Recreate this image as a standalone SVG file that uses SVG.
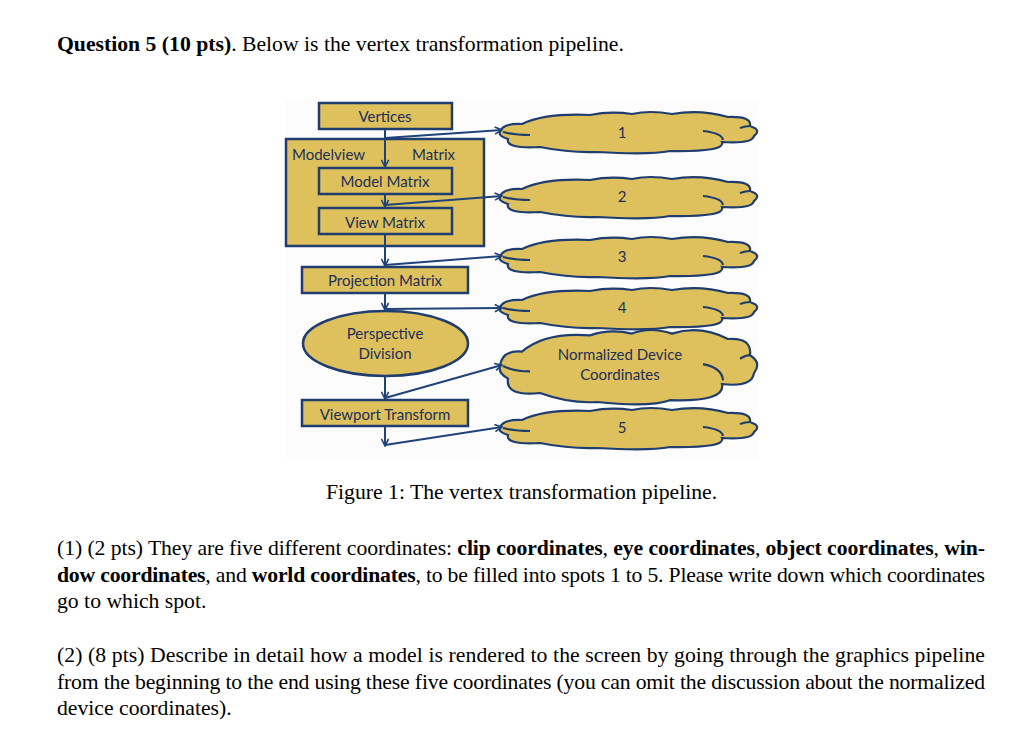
<svg xmlns="http://www.w3.org/2000/svg" width="1024" height="755" viewBox="0 0 1024 755">
<style>
.box{fill:#dec05d;stroke:#1f3d6f;stroke-width:2.5}
.cl{fill:#dec05d;stroke:#1f3d6f;stroke-width:2.2;vector-effect:non-scaling-stroke}
.ci{fill:none;stroke:#1f3d6f;stroke-width:2.2;vector-effect:non-scaling-stroke}
.lbl{font-family:Lato,"Open Sans",sans-serif;font-size:15px;fill:#1d2f57}
.c{text-anchor:middle}
.ln{fill:none;stroke:#1f4377;stroke-width:2}
.t{font-family:"Liberation Serif","Times New Roman",serif;font-size:21.7px;fill:#000}
.b{font-weight:bold}
</style>
<defs>
<marker id="ah" viewBox="0 0 10 10" refX="9" refY="5" markerWidth="9" markerHeight="9" markerUnits="userSpaceOnUse" orient="auto">
<path d="M1,1 L9,5 L1,9" fill="none" stroke="#1f4377" stroke-width="1.8"/>
</marker>
<g id="cloud">
<path class="cl" d="M0,0 Q2,-9 22,-8 Q45,-19 90,-17 Q110,-21 132,-18 Q150,-22 172,-18 Q200,-23 228,-15 Q252,-16 250,-6 Q262,-2 254,4 Q252,12 222,10 Q226,20 170,19 Q150,23 97,20 Q70,21 40,15 Q5,17 8,7 Q-2,4 0,0 Z"/>
<path class="ci" d="M3,0 Q14,3 30,3 M203,-1 Q222,1 223,8 M240,-4 Q246,-6 250,-6"/>
</g>
</defs>
<rect width="1024" height="755" fill="#fff"/>
<rect x="285" y="100" width="473" height="358" fill="#fcfcfc"/>

<text class="t" x="57" y="51"><tspan class="b">Question 5 (10 pts)</tspan>. Below is the vertex transformation pipeline.</text>

<g id="modelview">
<rect class="box" x="286" y="139" width="198" height="107"/>
<text class="lbl" x="292" y="160">Modelview</text>
<text class="lbl" x="412" y="160">Matrix</text>
</g>
<g id="vertices">
<rect class="box" x="319" y="103" width="133" height="26"/>
<text class="lbl c" x="385" y="122">Vertices</text>
</g>
<g id="model-matrix">
<rect class="box" x="319" y="168" width="133" height="26"/>
<text class="lbl c" x="385" y="187">Model Matrix</text>
</g>
<g id="view-matrix">
<rect class="box" x="319" y="208" width="133" height="26"/>
<text class="lbl c" x="385" y="228">View Matrix</text>
</g>
<g id="projection-matrix">
<rect class="box" x="302" y="267" width="166" height="26"/>
<text class="lbl c" x="385" y="286">Projection Matrix</text>
</g>
<g id="perspective-division">
<ellipse class="box" cx="385.5" cy="343.5" rx="82.5" ry="32.5"/>
<text class="lbl c" x="385" y="339">Perspective</text>
<text class="lbl c" x="385" y="359">Division</text>
</g>
<g id="viewport-transform">
<rect class="box" x="302" y="400" width="166" height="26"/>
<text class="lbl c" x="385" y="420">Viewport Transform</text>
</g>

<g id="cloud1"><use href="#cloud" transform="translate(500,132)"/><text class="lbl c" x="622" y="138">1</text></g>
<g id="cloud2"><use href="#cloud" transform="translate(500,197)"/><text class="lbl c" x="622" y="202">2</text></g>
<g id="cloud3"><use href="#cloud" transform="translate(500,257)"/><text class="lbl c" x="622" y="262">3</text></g>
<g id="cloud4"><use href="#cloud" transform="translate(500,308)"/><text class="lbl c" x="622" y="313">4</text></g>
<g id="cloud-ndc"><use href="#cloud" transform="translate(500,366) scale(1,1.8)"/><text class="lbl c" x="620" y="360">Normalized Device</text><text class="lbl c" x="620" y="380">Coordinates</text></g>
<g id="cloud5"><use href="#cloud" transform="translate(500,428)"/><text class="lbl c" x="622" y="433">5</text></g>

<g id="connectors">
<line class="ln" x1="385" y1="129" x2="385" y2="167" marker-end="url(#ah)"/>
<line class="ln" x1="385" y1="194" x2="385" y2="207" marker-end="url(#ah)"/>
<line class="ln" x1="385" y1="234" x2="385" y2="266" marker-end="url(#ah)"/>
<line class="ln" x1="385" y1="293" x2="385" y2="310" marker-end="url(#ah)"/>
<line class="ln" x1="385" y1="376" x2="385" y2="399" marker-end="url(#ah)"/>
<line class="ln" x1="385" y1="426" x2="385" y2="446" marker-end="url(#ah)"/>
<line class="ln" x1="385" y1="138" x2="502" y2="130" marker-end="url(#ah)"/>
<line class="ln" x1="385" y1="205" x2="502" y2="196" marker-end="url(#ah)"/>
<line class="ln" x1="385" y1="265" x2="502" y2="256" marker-end="url(#ah)"/>
<line class="ln" x1="385" y1="309" x2="502" y2="308" marker-end="url(#ah)"/>
<line class="ln" x1="385" y1="398" x2="502" y2="365" marker-end="url(#ah)"/>
<line class="ln" x1="385" y1="445" x2="502" y2="427" marker-end="url(#ah)"/>
</g>

<text class="t" x="326" y="499">Figure 1: The vertex transformation pipeline.</text>

<text class="t" x="57" y="555" textLength="928" lengthAdjust="spacing">(1) (2 pts) They are five different coordinates: <tspan class="b">clip coordinates</tspan>, <tspan class="b">eye coordinates</tspan>, <tspan class="b">object coordinates</tspan>, <tspan class="b">win-</tspan></text>
<text class="t" x="57" y="582" textLength="928" lengthAdjust="spacing"><tspan class="b">dow coordinates</tspan>, and <tspan class="b">world coordinates</tspan>, to be filled into spots 1 to 5. Please write down which coordinates</text>
<text class="t" x="57" y="608">go to which spot.</text>

<text class="t" x="57" y="662" textLength="928" lengthAdjust="spacing">(2) (8 pts) Describe in detail how a model is rendered to the screen by going through the graphics pipeline</text>
<text class="t" x="57" y="689" textLength="928" lengthAdjust="spacing">from the beginning to the end using these five coordinates (you can omit the discussion about the normalized</text>
<text class="t" x="57" y="715">device coordinates).</text>
</svg>
